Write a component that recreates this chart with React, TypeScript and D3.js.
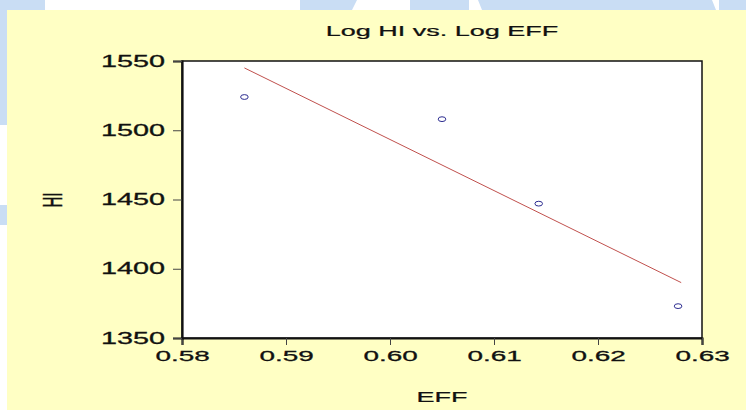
import * as d3 from 'd3';
import React, { useRef, useEffect } from 'react';

const width = 746;
const height = 410;
const plot = { left: 182, right: 702, top: 61, bottom: 338 };

// text in the source picture is stretched sideways
const stretch = 1.8;
const font = '"Liberation Sans", Arial, sans-serif';

const xTicks = [0.58, 0.59, 0.6, 0.61, 0.62, 0.63];
const yTicks = [1350, 1400, 1450, 1500, 1550];

// observed points
const effValues = [0.586, 0.605, 0.6143, 0.6277];
const hiValues = [1524, 1508, 1447, 1373];

// fitted line end points
const fitEff = [0.586, 0.628];
const fitHi = [1545, 1390];

const App = () => {
  const svgRef = useRef<SVGSVGElement>(null);

  useEffect(() => {
    const xScale = d3.scaleLinear().domain([0.58, 0.63]).range([plot.left, plot.right]);
    const yScale = d3.scaleLinear().domain([1350, 1550]).range([plot.bottom, plot.top]);

    const svg = d3.select(svgRef.current);
    svg.selectAll('*').remove();

    // page background and the bits of the slide around the chart
    svg.append('rect').attr('width', width).attr('height', height).attr('fill', '#ffffff');
    const blue = '#c9ddf4';
    svg.append('rect').attr('x', 0).attr('y', 0).attr('width', 45).attr('height', 10).attr('fill', blue);
    svg.append('rect').attr('x', 0).attr('y', 0).attr('width', 7).attr('height', 125).attr('fill', blue);
    svg.append('rect').attr('x', 0).attr('y', 205).attr('width', 7).attr('height', 20).attr('fill', blue);
    svg.append('polygon').attr('points', '300,0 357,0 352,10 300,10').attr('fill', blue);
    svg.append('polygon').attr('points', '410,0 469,0 469,10 410,10').attr('fill', blue);
    svg.append('polygon').attr('points', '478,0 712,0 716,10 482,10').attr('fill', blue);
    svg.append('rect').attr('x', 719).attr('y', 0).attr('width', 27).attr('height', 10).attr('fill', blue);

    svg.append('rect')
      .attr('x', 7).attr('y', 10)
      .attr('width', width - 7).attr('height', height - 10)
      .attr('fill', '#ffffc4');

    // plot frame
    svg.append('rect')
      .attr('x', plot.left).attr('y', plot.top)
      .attr('width', plot.right - plot.left).attr('height', plot.bottom - plot.top)
      .attr('fill', '#ffffff')
      .attr('stroke', '#111')
      .attr('stroke-width', 1.5);

    const xAxis = svg.append('g')
      .attr('transform', `translate(0,${plot.bottom})`)
      .call(d3.axisBottom(xScale).tickValues(xTicks).tickFormat(d3.format('.2f')).tickSizeOuter(0).tickSize(7).tickPadding(5));
    xAxis.select('.domain').attr('stroke', '#111').attr('stroke-width', 2.2);
    xAxis.selectAll('.tick line').attr('stroke', '#444');
    xAxis.selectAll('.tick text')
      .attr('font-family', font)
      .attr('font-size', 15.5)
      .attr('fill', '#111')
      .attr('stroke', '#111')
      .attr('stroke-width', 0.3)
      .attr('transform', `scale(${stretch},1)`);

    const yAxis = svg.append('g')
      .attr('transform', `translate(${plot.left},0)`)
      .call(d3.axisLeft(yScale).tickValues(yTicks).tickFormat(d3.format('d')).tickSizeOuter(0).tickSize(9));
    yAxis.select('.domain').attr('stroke', '#111').attr('stroke-width', 2.2);
    yAxis.selectAll('.tick line').attr('stroke', '#444');
    yAxis.selectAll('.tick text')
      .attr('font-family', font)
      .attr('font-size', 16)
      .attr('fill', '#111')
      .attr('stroke', '#111')
      .attr('stroke-width', 0.3)
      .attr('x', -17 / stretch)
      .attr('transform', `scale(${stretch},1)`);

    // fitted line
    svg.append('path')
      .attr('fill', 'none')
      .attr('stroke', '#c0504d')
      .attr('stroke-width', 1)
      .attr('d', d3.line<number>()
        .x(d => xScale(d))
        .y((_, i) => yScale(fitHi[i]))(fitEff));

    // points
    svg.append('g')
      .selectAll('ellipse')
      .data(effValues)
      .join('ellipse')
      .attr('cx', d => xScale(d))
      .attr('cy', (_, i) => yScale(hiValues[i]))
      .attr('rx', 3.8)
      .attr('ry', 2.4)
      .attr('fill', 'none')
      .attr('stroke', '#2c2c90')
      .attr('stroke-width', 1);

    // titles
    const mid = (plot.left + plot.right) / 2;
    const label = (t: string, transform: string) =>
      svg.append('text')
        .attr('transform', transform)
        .attr('text-anchor', 'middle')
        .attr('font-family', font)
        .attr('font-size', 15)
        .attr('fill', '#111')
        .attr('stroke', '#111')
        .attr('stroke-width', 0.25)
        .text(t);

    label('Log HI vs. Log EFF', `translate(${mid},36) scale(${stretch},1)`);
    label('EFF', `translate(${mid},402) scale(${stretch},1)`);
    label('HI', `translate(62,200) scale(${stretch},1) rotate(-90)`);
  }, []);

  return (
    <svg
      ref={svgRef}
      width={width}
      height={height}
      style={{ position: 'absolute', left: 0, top: 0 }}
    />
  );
};

export default App;
